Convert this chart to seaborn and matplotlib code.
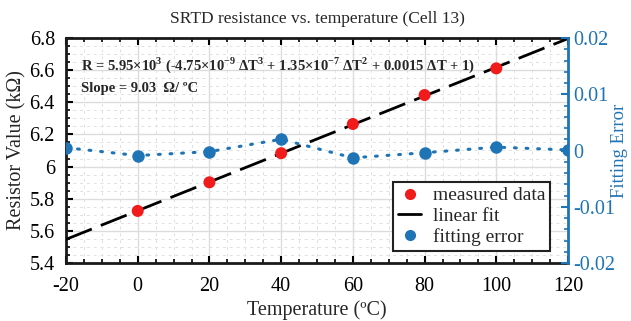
import numpy as np
import pandas as pd
import matplotlib
matplotlib.use("Agg")
import matplotlib.pyplot as plt
from matplotlib.ticker import MultipleLocator
from matplotlib.lines import Line2D
import seaborn as sns

# ---- data ----
temps = [0, 20, 40, 60, 80, 100]
resist = [5.724, 5.902, 6.083, 6.265, 6.445, 6.611]
err_temps = [-20, 0, 20, 40, 60, 80, 100, 120]
fit_err = [0.0005, -0.0009, -0.0002, 0.0020, -0.0013, -0.0004, 0.0006, 0.0001]
x_range = [-20, 120]
xticks = [-20, 0, 20, 40, 60, 80, 100, 120]
yticks = [5.4, 5.6, 5.8, 6.0, 6.2, 6.4, 6.6, 6.8]
ytick_labels = ["5.4", "5.6", "5.8", "6", "6.2", "6.4", "6.6", "6.8"]
y2ticks = [-0.02, -0.01, 0, 0.01, 0.02]
y2tick_labels = ["-0.02", "-0.01", "0", "0.01", "0.02"]

RED = "#f21b1b"
BLUE = "#1f74b6"

sns.set_theme(style="ticks")
plt.rcParams["font.family"] = ["Liberation Serif", "DejaVu Serif"]
plt.rcParams["mathtext.fontset"] = "custom"
plt.rcParams["mathtext.rm"] = "Liberation Serif"
plt.rcParams["mathtext.bf"] = "Liberation Serif:bold"

fig = plt.figure(figsize=(6.31, 3.21), dpi=100)
ax = fig.add_axes([66/631, 58/321, 502/631, 225/321])

# grid
ax.xaxis.set_major_locator(MultipleLocator(20))
ax.xaxis.set_minor_locator(MultipleLocator(5))
ax.yaxis.set_minor_locator(MultipleLocator(0.05))
ax.grid(which="major", color="#dcdcdc", lw=1.0)
ax.grid(which="minor", color="#e0e0e0", lw=0.7, ls=(0, (3, 4)))
ax.set_axisbelow(True)

# linear fit from data
coef = np.polyfit(temps, resist, 1)
fit_df = pd.DataFrame({"T": x_range, "R": np.polyval(coef, x_range)})
sns.lineplot(data=fit_df, x="T", y="R", ax=ax, color="black", lw=2.0,
             dashes=False, zorder=3)
ax.lines[-1].set_dashes((10, 3.5))

meas_df = pd.DataFrame({"T": temps, "R": resist})
sns.scatterplot(data=meas_df, x="T", y="R", ax=ax, color=RED, s=75,
                edgecolor="none", zorder=4)

ax.set_xlim(-20, 120)
ax.set_ylim(5.4, 6.8)
ax.set_xticks(xticks)
ax.set_xticklabels([str(t) for t in xticks])
ax.set_yticks(yticks)
ax.set_yticklabels(ytick_labels)
ax.tick_params(axis="both", which="both", direction="in", labelsize=14.5,
               colors="black")
ax.tick_params(axis="both", which="major", length=5, width=1.5)
ax.tick_params(axis="both", which="minor", length=3, width=1.2)
ax.tick_params(axis="x", which="both", top=True, pad=10)
ax.tick_params(axis="y", pad=8)
ax.set_xlabel("Temperature (ºC)", fontsize=14.5, labelpad=3)
ax.set_ylabel("Resistor Value (kΩ)", fontsize=14.5, labelpad=2)
ax.set_title("SRTD resistance vs. temperature (Cell 13)", fontsize=12.5, pad=11)
for s in ["left", "bottom", "top"]:
    ax.spines[s].set_linewidth(2.0)
    ax.spines[s].set_color("#1a1a1a")
ax.spines["right"].set_visible(False)

# fitting error axis
ax2 = ax.twinx()
err_df = pd.DataFrame({"T": err_temps, "E": fit_err})
sns.lineplot(data=err_df, x="T", y="E", ax=ax2, color=BLUE, lw=2.2,
             marker="o", markersize=9, markeredgecolor="none", zorder=3)
ln = ax2.lines[-1]
ln.set_dashes((0.6, 3.2))
ln.set_dash_capstyle("round")
ax2.set_ylim(-0.02, 0.02)
ax2.set_xlim(-20, 120)
ax2.set_yticks(y2ticks)
ax2.set_yticklabels(y2tick_labels)
ax2.yaxis.set_minor_locator(MultipleLocator(0.002))
ax2.tick_params(axis="y", which="both", direction="in", labelsize=14.5,
                colors=BLUE, right=True, left=False, pad=4)
ax2.tick_params(axis="y", which="major", length=5, width=1.5)
ax2.tick_params(axis="y", which="minor", length=3, width=1.2)
ax2.set_ylabel("Fitting Error", fontsize=13.5, color=BLUE)
ax2.yaxis.set_label_coords(1.086, 0.5)
for s in ["left", "bottom", "top"]:
    ax2.spines[s].set_visible(False)
ax2.spines["right"].set_linewidth(2.0)
ax2.spines["right"].set_color(BLUE)

# annotation
ax.text(0.03, 0.88,
        r"R = 5.95×10$^{\mathbf{3}}$ (-4.75×10$^{\mathbf{-9}}$ ΔT$^{\mathbf{3}}$ + "
        r"1.35×10$^{\mathbf{-7}}$ ΔT$^{\mathbf{2}}$ + 0.0015 ΔT + 1)",
        transform=ax.transAxes, fontsize=10.5, fontweight="bold",
        va="center", ha="left")
ax.text(0.03, 0.775, "Slope = 9.03  Ω/ ºC", transform=ax.transAxes,
        fontsize=10.5, fontweight="bold", va="center", ha="left")

# legend
handles = [
    Line2D([], [], ls="none", marker="o", color=RED, markersize=7),
    Line2D([], [], color="black", lw=2),
    Line2D([], [], ls="none", marker="o", color=BLUE, markersize=7),
]
leg = ax2.legend(handles, ["measured data", "linear fit", "fitting error"],
                 loc="lower right", bbox_to_anchor=(0.965, 0.055),
                 fontsize=14, frameon=True, fancybox=False,
                 handlelength=1.2, handletextpad=0.6, borderpad=0.25,
                 labelspacing=0.15, borderaxespad=0)
leg.get_frame().set_edgecolor("#222222")
leg.get_frame().set_linewidth(1.5)
leg.get_frame().set_facecolor("white")
leg.get_frame().set_alpha(1)

fig.savefig("out.png", dpi=100)
